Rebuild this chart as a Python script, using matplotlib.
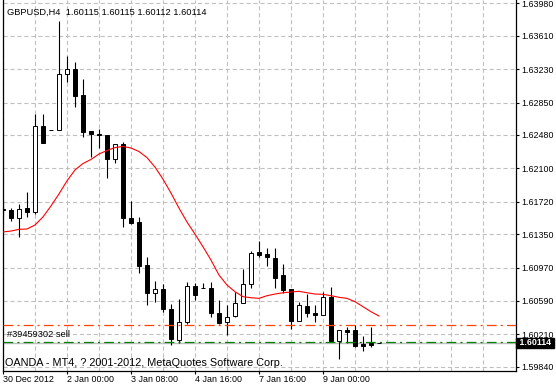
import numpy as np
import matplotlib.pyplot as plt
import matplotlib.transforms as mtransforms

plt.rcParams['font.family'] = ['Liberation Sans', 'DejaVu Sans']
plt.rcParams['lines.scale_dashes'] = False

# GBPUSD H4 candles
opens = [1.61640, 1.61625, 1.61531, 1.61645, 1.61606, 1.62582, 1.62537, 1.62537,
         1.63175, 1.63228, 1.62935, 1.62525, 1.62495, 1.62480, 1.62203, 1.62374,
         1.61531, 1.61485, 1.60999, 1.60676, 1.60722, 1.60494, 1.60144, 1.60346,
         1.60760, 1.60733, 1.60733, 1.60449, 1.60346, 1.60421, 1.60562, 1.60779,
         1.61143, 1.61124, 1.61075, 1.60885, 1.60725, 1.60364, 1.60532, 1.60449,
         1.60426, 1.60631, 1.60136, 1.60258, 1.60258, 1.60099, 1.60114, 1.60115]
highs = [1.61739, 1.61652, 1.61694, 1.61834, 1.62716, 1.62716, 1.62537, 1.63778,
         1.63380, 1.63315, 1.63118, 1.62525, 1.62548, 1.62480, 1.62374, 1.62397,
         1.61728, 1.61542, 1.61093, 1.60816, 1.60779, 1.60554, 1.60611, 1.60809,
         1.60790, 1.60797, 1.60805, 1.60600, 1.60543, 1.60695, 1.60950, 1.61158,
         1.61272, 1.61189, 1.61189, 1.61007, 1.60725, 1.60581, 1.60665, 1.60543,
         1.60688, 1.60752, 1.60258, 1.60296, 1.60312, 1.60190, 1.60289, 1.60115]
lows = [1.61568, 1.61500, 1.61321, 1.61549, 1.61580, 1.62385, 1.62537, 1.62537,
        1.63087, 1.62795, 1.62460, 1.62233, 1.62335, 1.61993, 1.62157, 1.61435,
        1.61462, 1.60904, 1.60543, 1.60581, 1.60460, 1.60087, 1.60107, 1.60327,
        1.60600, 1.60733, 1.60410, 1.60327, 1.60201, 1.60410, 1.60562, 1.60740,
        1.61090, 1.60987, 1.60740, 1.60680, 1.60270, 1.60364, 1.60410, 1.60353,
        1.60426, 1.60136, 1.59924, 1.60106, 1.60061, 1.60022, 1.60068, 1.60112]
closes = [1.61620, 1.61531, 1.61640, 1.61599, 1.62586, 1.62385, 1.62537, 1.63175,
          1.63228, 1.62927, 1.62517, 1.62488, 1.62480, 1.62203, 1.62374, 1.61531,
          1.61481, 1.60991, 1.60676, 1.60722, 1.60494, 1.60152, 1.60346, 1.60760,
          1.60657, 1.60733, 1.60455, 1.60341, 1.60410, 1.60562, 1.60779, 1.61132,
          1.61116, 1.61086, 1.60854, 1.60714, 1.60364, 1.60543, 1.60449, 1.60426,
          1.60631, 1.60136, 1.60258, 1.60239, 1.60079, 1.60079, 1.60091, 1.60114]

# moving average (red line)
ma = [1.61375, 1.61386, 1.61405, 1.61409, 1.61454, 1.61546, 1.61671, 1.61808,
      1.61956, 1.62081, 1.62155, 1.62201, 1.62263, 1.62303, 1.62337, 1.62349,
      1.62332, 1.62292, 1.62223, 1.62115, 1.61978, 1.61819, 1.61648, 1.61489,
      1.61352, 1.61207, 1.61056, 1.60885, 1.60771, 1.60695, 1.60638, 1.60626,
      1.60619, 1.60649, 1.60668, 1.60683, 1.60691, 1.60699, 1.60683, 1.60668,
      1.60665, 1.60649, 1.60631, 1.60619, 1.60581, 1.60524, 1.60467, 1.60418]

time_pos = [0, 8, 16, 24, 32, 40]
time_labels = ['30 Dec 2012', '2 Jan 00:00', '3 Jan 08:00', '4 Jan 16:00',
               '7 Jan 16:00', '9 Jan 00:00']
price_ticks = [1.59840, 1.60210, 1.60590, 1.60970, 1.61350, 1.61720,
               1.62100, 1.62480, 1.62850, 1.63230, 1.63610, 1.63980]

bid = 1.60114
order_price = 1.60127
stop_price = 1.60312

idx = np.arange(len(opens))
o = np.array(opens)
c = np.array(closes)
up = c >= o

fig = plt.figure(figsize=(5.56, 3.87), dpi=100)
ax = fig.add_axes([2.7 / 556, 16.5 / 387, 513 / 556, 370.5 / 387])

# grid
ax.set_xticks(range(4, 64, 4), minor=True)
ax.grid(axis='x', which='both', color='#c0c0c0', lw=0.8, ls=(0, (3, 2)))
ax.grid(axis='y', which='major', color='#c0c0c0', lw=0.8, ls=(0, (3, 2)))
ax.set_axisbelow(True)

# candles
ax.vlines(idx, lows, highs, color='black', lw=0.8, zorder=2)
ax.bar(idx, np.abs(c - o), bottom=np.minimum(o, c), width=0.5,
       color=np.where(up, 'white', 'black'), edgecolor='black', lw=0.7, zorder=3)

ax.plot(idx, ma, color='red', lw=0.8, zorder=4)

# order / price lines
ax.axhline(bid, color='#c0c0c0', lw=1.0, zorder=1)
ax.axhline(stop_price, color='#ff4500', lw=0.9, ls=(0, (7, 3, 1.5, 3)), zorder=4)
ax.axhline(order_price, color='#008000', lw=0.9, ls=(0, (7, 3, 1.5, 3)), zorder=4)

trans = mtransforms.blended_transform_factory(ax.transAxes, ax.transData)
ax.annotate('#39459302 sell', xy=(0.009, order_price), xycoords=trans,
            xytext=(0, 1.5), textcoords='offset points', fontsize=6.7, va='bottom')
ax.annotate(' %.5f ' % bid, xy=(1, bid), xycoords=trans, xytext=(0.8, 0),
            textcoords='offset points', ha='left', va='center', color='white',
            fontsize=6.4, fontweight='bold', annotation_clip=False,
            bbox=dict(boxstyle='square,pad=0.05', fc='black', ec='black'))

ax.text(0.009, 0.961, 'GBPUSD,H4  %.5f %.5f %.5f %.5f' % (opens[-1], highs[-1], lows[-1], closes[-1]),
        transform=ax.transAxes, fontsize=6.7, va='baseline')
ax.text(0.005, 0.012, 'OANDA - MT4, ? 2001-2012, MetaQuotes Software Corp.',
        transform=ax.transAxes, fontsize=7.8, va='baseline')

# axes
ax.set_xlim(-0.03, 64.09)
ax.set_ylim(1.59797, 1.64018)
ax.set_xticks(time_pos)
ax.set_xticklabels(time_labels)
for lbl in ax.get_xticklabels():
    lbl.set_horizontalalignment('left')
ax.yaxis.tick_right()
ax.set_yticks(price_ticks)
ax.set_yticklabels(['%.5f' % p for p in price_ticks])
ax.tick_params(axis='x', which='major', length=2.5, width=0.8, pad=1, labelsize=6.4)
ax.tick_params(axis='x', which='minor', length=0)
ax.tick_params(axis='y', length=2.2, width=0.8, pad=1.5, labelsize=6.4)
ax.spines['top'].set_visible(False)
for s in ['left', 'right', 'bottom']:
    ax.spines[s].set_linewidth(0.9)

fig.savefig('out.png', dpi=100)
